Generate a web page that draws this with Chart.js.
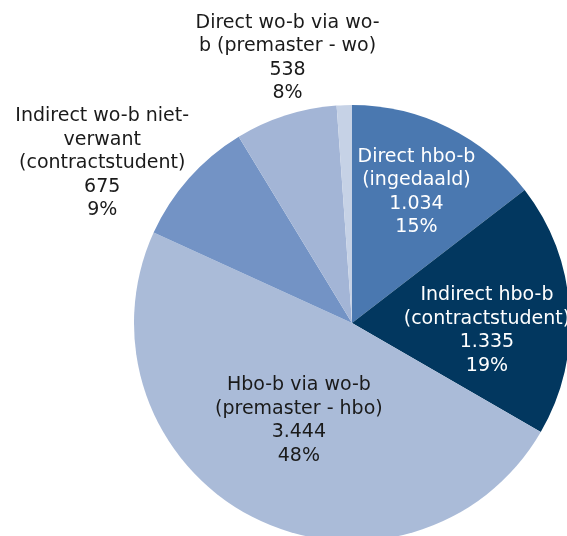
<!DOCTYPE html>
<html>
<head>
<meta charset="utf-8">
<script src="https://cdn.jsdelivr.net/npm/chart.js@4.4.1/dist/chart.umd.min.js"></script>
<style>
  html, body { margin: 0; padding: 0; background: #ffffff; overflow: hidden; width: 567px; height: 536px; }
  #wrap { position: absolute; left: 0; top: 0; width: 600px; height: 560px; }
</style>
</head>
<body>
<div id="wrap"><canvas id="c" width="600" height="560"></canvas></div>
<script>
// ---- data ----
const categories = [
  "Direct hbo-b (ingedaald)",
  "Indirect hbo-b (contractstudent)",
  "Hbo-b via wo-b (premaster - hbo)",
  "Indirect wo-b niet-verwant (contractstudent)",
  "Direct wo-b via wo-b (premaster - wo)",
  "Overig"
];
const labelLines = [
  ["Direct hbo-b", "(ingedaald)"],
  ["Indirect hbo-b", "(contractstudent)"],
  ["Hbo-b via wo-b", "(premaster - hbo)"],
  ["Indirect wo-b niet-", "verwant", "(contractstudent)"],
  ["Direct wo-b via wo-", "b (premaster - wo)"],
  []
];
const values = [1034, 1335, 3444, 675, 538, 80];

// ---- styling ----
const colors = ["#4a78b0", "#02375f", "#aabbd8", "#7393c5", "#a3b5d6", "#c6d2e6"];
const textColors = ["#ffffff", "#ffffff", "#1a1a1a", "#1a1a1a", "#1a1a1a", "#1a1a1a"];
// [radius factor, angle nudge in degrees] for each label
const labelPlace = [[0.67, 0], [0.62, 7], [0.51, 1.3], [1.36, -9], [1.25, 4], null];

function fmtNL(n) {
  return String(n).replace(/\B(?=(\d{3})+(?!\d))/g, ".");
}

const labelPlugin = {
  id: "sliceLabels",
  afterDatasetsDraw(chart) {
    const ctx = chart.ctx;
    const meta = chart.getDatasetMeta(0);
    const data = chart.data.datasets[0].data;
    const total = data.reduce((a, b) => a + b, 0);
    ctx.save();
    ctx.font = "19px 'DejaVu Sans', sans-serif";
    ctx.textAlign = "center";
    ctx.textBaseline = "middle";
    const lh = 23.5;
    meta.data.forEach((arc, i) => {
      const place = labelPlace[i];
      if (!place) return;
      const p = arc.getProps(["x", "y", "startAngle", "endAngle", "outerRadius"], true);
      const mid = (p.startAngle + p.endAngle) / 2 + place[1] * Math.PI / 180;
      const cx = p.x + Math.cos(mid) * p.outerRadius * place[0];
      const cy = p.y + Math.sin(mid) * p.outerRadius * place[0];
      const lines = labelLines[i].concat([fmtNL(data[i]), Math.round(data[i] / total * 100) + "%"]);
      const y0 = cy - (lines.length - 1) * lh / 2;
      ctx.fillStyle = textColors[i];
      lines.forEach((t, k) => ctx.fillText(t, cx, y0 + k * lh));
    });
    ctx.restore();
  }
};

new Chart(document.getElementById("c"), {
  type: "pie",
  data: {
    labels: categories,
    datasets: [{
      data: values,
      backgroundColor: colors,
      borderWidth: 0,
      hoverBorderWidth: 0,
      hoverOffset: 0
    }]
  },
  options: {
    responsive: false,
    animation: false,
    layout: { padding: { left: 134, top: 105, right: 30, bottom: 19 } },
    plugins: {
      legend: { display: false },
      tooltip: { enabled: false }
    }
  },
  plugins: [labelPlugin]
});
</script>
</body>
</html>
